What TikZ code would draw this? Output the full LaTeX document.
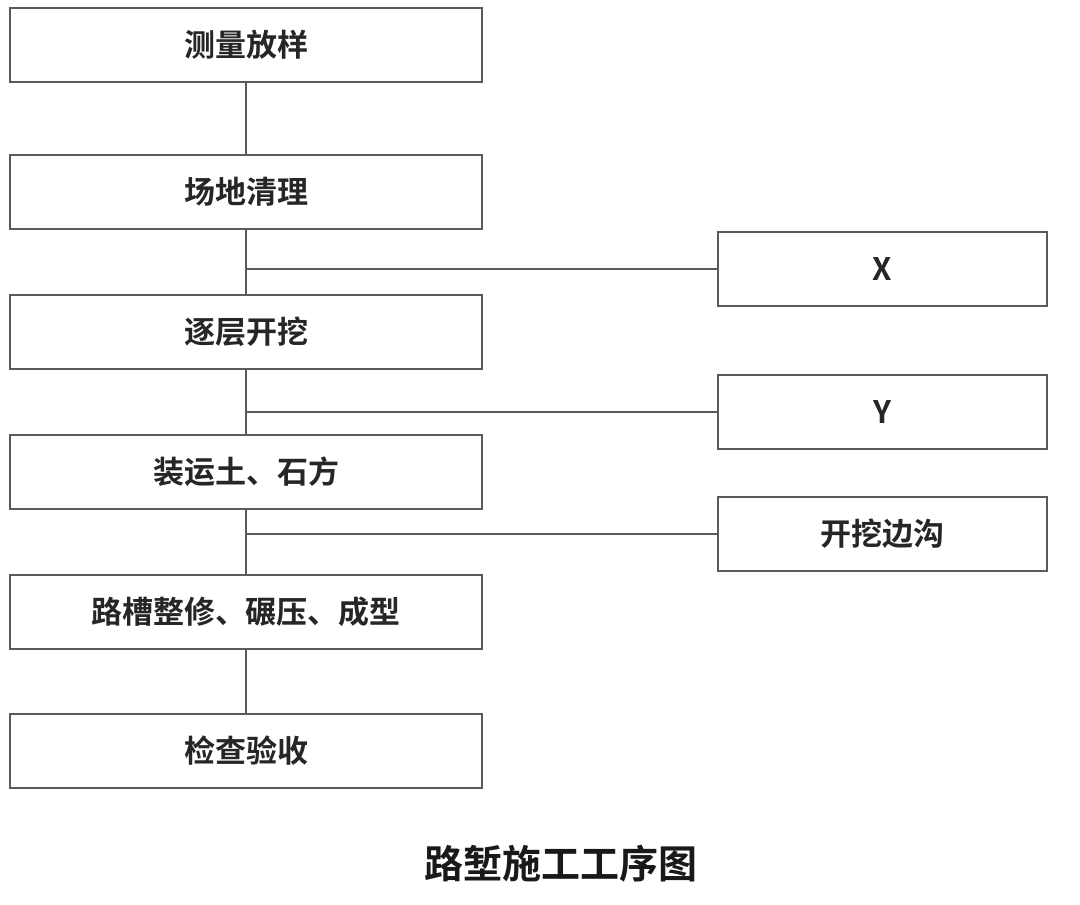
\documentclass[tikz,border=0pt]{standalone}
\usepackage{fontspec}
\newfontfamily\cjk{Noto Sans CJK SC}[BoldFont={Noto Sans CJK SC Bold}]
\begin{document}
\begin{tikzpicture}[x=1pt,y=-1pt,
  stepbox/.style={draw=linegray,line width=2.4pt,rectangle,inner sep=0pt,outer sep=0pt,
    font=\cjk\bfseries\fontsize{31}{36}\selectfont,text=black!85},
  leftbox/.style={stepbox,minimum width=472pt,minimum height=74pt},
  rightbox/.style={stepbox,minimum width=329pt,minimum height=74pt},
  conn/.style={draw=linegray,line width=2.4pt}]
\definecolor{linegray}{HTML}{5A5A5A}
\useasboundingbox (0,0) rectangle (1080,905);
\fill[white] (0,0) rectangle (1080,905);
\node[leftbox] (a) at (246,45) {测量放样};
\node[leftbox] (b) at (246,192) {场地清理};
\node[leftbox] (c) at (246,332) {逐层开挖};
\node[leftbox] (d) at (246,472) {装运土、石方};
\node[leftbox] (e) at (246,612) {路槽整修、碾压、成型};
\node[leftbox] (f) at (246,751) {检查验收};
\node[rightbox] (x) at (882.5,269) {X};
\node[rightbox] (y) at (882.5,412) {Y};
\node[rightbox] (z) at (882.5,534) {开挖边沟};
\coordinate (jx) at (245,269);
\coordinate (jy) at (245,412);
\coordinate (jz) at (245,534);
\draw[conn] (a.south) -- (b.north);
\draw[conn] (b.south) -- (c.north);
\draw[conn] (c.south) -- (d.north);
\draw[conn] (d.south) -- (e.north);
\draw[conn] (e.south) -- (f.north);
\draw[conn] (jx) -- (x.west);
\draw[conn] (jy) -- (y.west);
\draw[conn] (jz) -- (z.west);
\node[font=\cjk\bfseries\fontsize{39}{44}\selectfont,text=black!90] (title) at (561,864) {路堑施工工序图};
\end{tikzpicture}
\end{document}
